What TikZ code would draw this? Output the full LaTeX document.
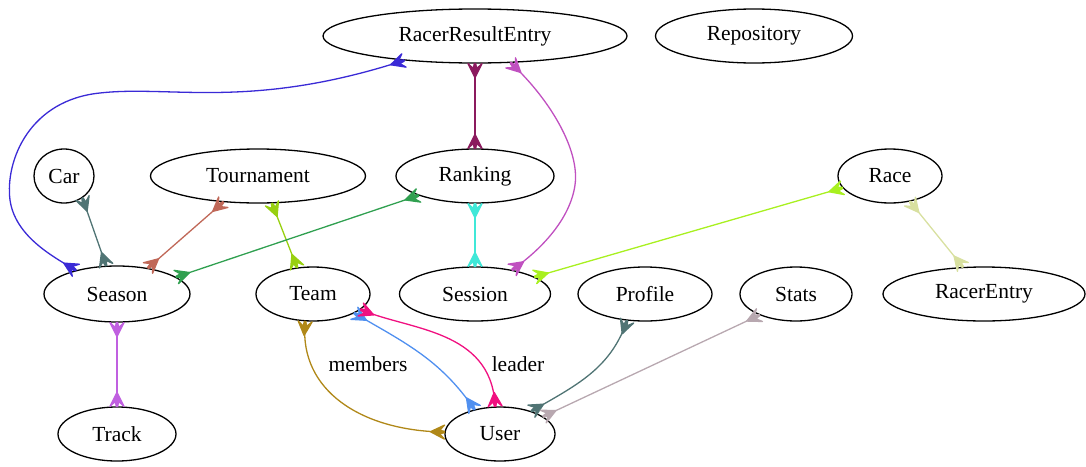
\documentclass[tikz,border=0pt]{standalone}
\usepackage{fontspec}
\setmainfont{Liberation Serif}
\usetikzlibrary{shapes.geometric,arrows.meta}
\pgfdeclarearrow{
  name = Crow,
  parameters = {\the\pgfarrowlength,\the\pgfarrowwidth},
  setup code = {
    \pgfarrowssettipend{0pt}
    \pgfarrowssetbackend{-\pgfarrowlength}
    \pgfarrowssetlineend{-0.2\pgfarrowlength}
    \pgfarrowssavethe\pgfarrowlength
    \pgfarrowssavethe\pgfarrowwidth
  },
  drawing code = {
    \pgfsetroundjoin
    \pgfpathmoveto{\pgfqpoint{-\pgfarrowlength}{0pt}}
    \pgfpathlineto{\pgfqpoint{0pt}{0.5\pgfarrowwidth}}
    \pgfpathlineto{\pgfqpoint{-0.35\pgfarrowlength}{0.12\pgfarrowwidth}}
    \pgfpathlineto{\pgfqpoint{0pt}{0.05\pgfarrowwidth}}
    \pgfpathlineto{\pgfqpoint{0pt}{-0.05\pgfarrowwidth}}
    \pgfpathlineto{\pgfqpoint{-0.35\pgfarrowlength}{-0.12\pgfarrowwidth}}
    \pgfpathlineto{\pgfqpoint{0pt}{-0.5\pgfarrowwidth}}
    \pgfpathclose
    \pgfusepathqfillstroke
  },
  defaults = {length = 14pt, width = 14pt}
}
\definecolor{cBlue}{HTML}{3A2AD6}
\definecolor{cPlum}{HTML}{8B1A5E}
\definecolor{cOrchid}{HTML}{C050C0}
\definecolor{cSlate}{HTML}{507474}
\definecolor{cSalmon}{HTML}{C06858}
\definecolor{cYG}{HTML}{98D010}
\definecolor{cGreen}{HTML}{30A050}
\definecolor{cTurq}{HTML}{40E8D8}
\definecolor{cLawn}{HTML}{A8F020}
\definecolor{cPale}{HTML}{D8E0A0}
\definecolor{cPurple}{HTML}{C060E0}
\definecolor{cGold}{HTML}{B08818}
\definecolor{cSky}{HTML}{5090F0}
\definecolor{cPink}{HTML}{F01080}
\definecolor{cGrey}{HTML}{B8A8B0}
\begin{document}
\begin{tikzpicture}[x=1pt,y=-1pt,
  ent/.style={draw, ellipse, line width=1.3pt, inner sep=0pt, minimum height=54pt,
    font=\fontsize{21.5}{25}\selectfont},
  rel/.style={line width=1.3pt, {Crow}-{Crow}},
  lbl/.style={font=\fontsize{21.5}{25}\selectfont, inner sep=0pt}]
\useasboundingbox (0,0) rectangle (1086,466);
\node[ent, minimum width=304pt] (rre) at (475,36) {RacerResultEntry};
\node[ent, minimum width=197pt] (repo) at (754,36) {Repository};
\node[ent, minimum width=60pt] (car) at (64,176) {Car};
\node[ent, minimum width=215pt] (tour) at (258,176) {Tournament};
\node[ent, minimum width=158pt] (rank) at (475,176) {Ranking};
\node[ent, minimum width=104pt] (race) at (890,176) {Race};
\node[ent, minimum width=146pt, minimum height=56pt] (season) at (117,294) {Season};
\node[ent, minimum width=114pt] (team) at (313,294) {Team};
\node[ent, minimum width=151pt] (session) at (475,294) {Session};
\node[ent, minimum width=134pt] (profile) at (645,294) {Profile};
\node[ent, minimum width=112pt] (stats) at (796,294) {Stats};
\node[ent, minimum width=202pt] (racerentry) at (984,294) {RacerEntry};
\node[ent, minimum width=118pt] (track) at (117,434) {Track};
\node[ent, minimum width=110pt] (user) at (500,434) {User};

\draw[rel, cBlue] (rre.-161) .. controls (250,110) and (170,85) .. (100,93)
  .. controls (30,100) and (5,160) .. (10,200)
  .. controls (15,235) and (50,255) .. (season.150);
\draw[rel, cPlum] (rre.south) -- (rank.north);
\draw[rel, cOrchid] (rre.-37) .. controls (550,100) and (580,150) .. (575,185)
  .. controls (570,220) and (540,250) .. (session.33);
\draw[rel, cSlate] (car.-50) -- (season.111);
\draw[rel, cSalmon] (tour.-143) -- (season.40);
\draw[rel, cYG] (tour.-63) -- (team.121);
\draw[rel, cGreen] (rank.-161) -- (season.16);
\draw[rel, cTurq] (rank.south) -- (session.north);
\draw[rel, cLawn] (race.-166) -- (session.16);
\draw[rel, cPale] (race.-52) -- (racerentry.128);
\draw[rel, cPurple] (season.south) -- (track.north);
\draw[rel, cGold] (team.-106) .. controls (300,390) and (360,430) .. (user.178);
\draw[rel, cSky] (team.-25) to[out=-30, in=125] (user.136);
\draw[rel, cPink] (team.-18) .. controls (410,330) and (490,330) .. (user.100);
\draw[rel, cSlate] (profile.-124) to[out=-110, in=30] (user.36);
\draw[rel, cGrey] (stats.-150) -- (user.22);
\node[lbl] (lmem) at (368,364) {members};
\node[lbl] (llead) at (518,364) {leader};
\end{tikzpicture}
\end{document}
